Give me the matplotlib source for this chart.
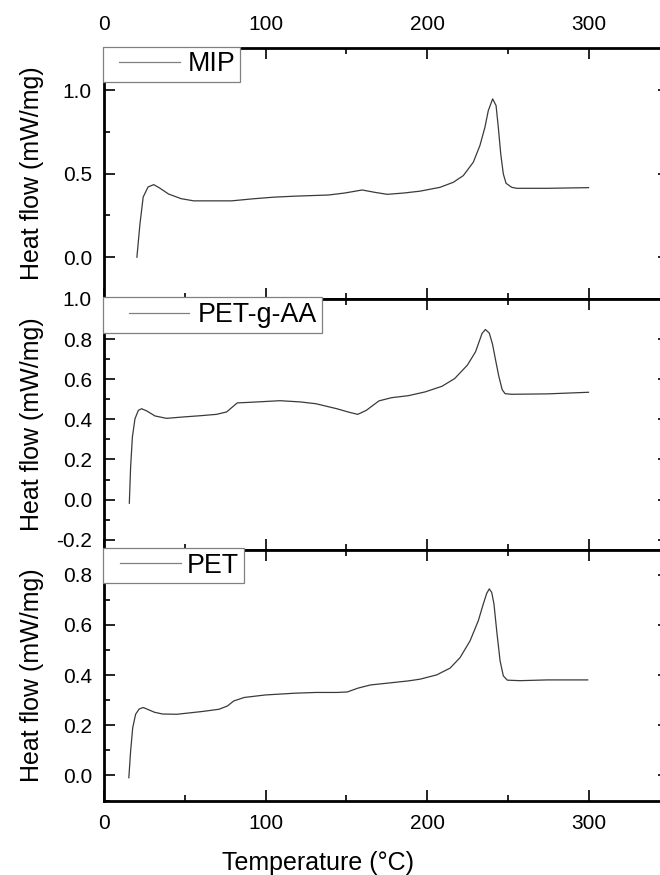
import matplotlib
matplotlib.use("Agg")
import matplotlib.pyplot as plt
from matplotlib.ticker import MultipleLocator, FormatStrFormatter
from matplotlib.lines import Line2D
from matplotlib.legend_handler import HandlerLine2D

plt.rcParams['font.family'] = ['Liberation Sans', 'DejaVu Sans']

# ---------------- data ----------------
mip_T = [20.1, 22.0, 24.0, 27.0, 30.5, 34.0, 39.7, 47.5, 55.3, 78.8, 91.8, 104.9,
         117.9, 138.8, 149.0, 159.7, 167.5, 175.3, 185.7, 195.6, 208.0, 216.2, 222.4,
         228.6, 232.7, 235.8, 237.9, 240.6, 242.7, 244.1, 245.6, 247.2, 248.9, 252.4,
         255.5, 274.4, 300.0]
mip_H = [0.0, 0.2, 0.36, 0.42, 0.434, 0.415, 0.378, 0.35, 0.337, 0.337, 0.349, 0.359,
         0.365, 0.372, 0.384, 0.402, 0.388, 0.376, 0.384, 0.395, 0.418, 0.448, 0.488,
         0.568, 0.668, 0.777, 0.877, 0.947, 0.907, 0.777, 0.618, 0.498, 0.442, 0.418,
         0.412, 0.412, 0.416]

aa_T = [15.4, 16.2, 17.3, 18.9, 21.0, 23.0, 26.2, 31.3, 38.5, 48.9, 59.2, 69.5, 75.7,
        79.8, 82.3, 90.2, 108.8, 121.2, 131.0, 144.0, 151.8, 157.0, 162.3, 170.1, 177.9,
        188.3, 198.8, 209.2, 217.0, 224.9, 230.0, 234.0, 236.1, 238.5, 240.5, 242.3,
        244.4, 246.5, 248.3, 252.3, 274.4, 300.0]
aa_H = [-0.018, 0.162, 0.312, 0.403, 0.445, 0.453, 0.442, 0.417, 0.405, 0.412, 0.418,
        0.425, 0.437, 0.465, 0.482, 0.485, 0.493, 0.487, 0.478, 0.453, 0.435, 0.425,
        0.445, 0.492, 0.508, 0.518, 0.537, 0.565, 0.603, 0.67, 0.737, 0.828, 0.848,
        0.83, 0.775, 0.7, 0.615, 0.548, 0.528, 0.525, 0.527, 0.535]

pet_T = [15.1, 16.2, 17.5, 19.3, 21.5, 24.0, 27.0, 31.0, 36.0, 44.9, 60.5, 71.0, 76.2,
         80.1, 86.6, 99.7, 117.9, 131.0, 144.0, 150.5, 157.0, 164.9, 175.3, 188.3,
         195.6, 205.9, 214.2, 220.4, 226.6, 231.7, 234.8, 236.9, 238.5, 240.0, 241.4,
         243.1, 245.2, 247.2, 249.7, 257.5, 274.4, 299.5]
pet_H = [-0.009, 0.097, 0.19, 0.244, 0.265, 0.271, 0.263, 0.252, 0.245, 0.244, 0.255,
         0.264, 0.277, 0.297, 0.311, 0.321, 0.328, 0.331, 0.331, 0.333, 0.348, 0.361,
         0.368, 0.377, 0.384, 0.401, 0.428, 0.47, 0.537, 0.617, 0.684, 0.726, 0.744,
         0.73, 0.684, 0.577, 0.457, 0.397, 0.38, 0.378, 0.381, 0.381]

labels = ['MIP', 'PET-g-AA', 'PET']

# ---------------- figure ----------------
fig = plt.figure(figsize=(6.6, 8.75), dpi=100)
L, W, H = 0.1583, 0.8556, 0.2866
bottoms = [0.6583, 0.3717, 0.0851]
ylims = [(-0.25, 1.25), (-0.25, 1.0), (-0.1, 0.9)]
ymaj = [0.5, 0.2, 0.2]
ymin = [0.25, 0.1, 0.1]
series = [(mip_T, mip_H), (aa_T, aa_H), (pet_T, pet_H)]
# legend layout per panel: (marker_pad, handlelength, handletextpad)
leg_style = [(0.425, 3.13, -0.127), (0.80, 3.84, -0.463), (0.463, 3.2, -0.24)]

for i in range(3):
    ax = fig.add_axes([L, bottoms[i], W, H])
    T, Hf = series[i]
    ax.plot(T, Hf, color='#3a3a3a', lw=0.9, label=labels[i])
    ax.set_xlim(0, 350)
    ax.set_ylim(*ylims[i])
    ax.xaxis.set_major_locator(MultipleLocator(100))
    ax.xaxis.set_minor_locator(MultipleLocator(50))
    ax.yaxis.set_major_locator(MultipleLocator(ymaj[i]))
    ax.yaxis.set_minor_locator(MultipleLocator(ymin[i]))
    ax.yaxis.set_major_formatter(FormatStrFormatter('%.1f'))
    for s in ax.spines.values():
        s.set_linewidth(2.0)
    ax.tick_params(which='both', direction='in', top=True, right=True,
                   labelsize=15, width=1.2, pad=9)
    ax.tick_params(which='major', length=8)
    ax.tick_params(which='minor', length=4.5)
    ax.tick_params(axis='x', labeltop=(i == 0), labelbottom=(i == 2), pad=10)
    ax.set_ylabel('Heat flow (mW/mg)', fontsize=18)
    ax.yaxis.set_label_coords(-0.107, 0.5)
    mp, hl, htp = leg_style[i]
    leg = ax.legend(loc='upper left', bbox_to_anchor=(-0.0027, 1.006),
                    fontsize=19.3, frameon=True, fancybox=False, borderpad=0.17,
                    borderaxespad=0.0, handlelength=hl, handletextpad=htp,
                    framealpha=1.0,
                    handler_map={Line2D: HandlerLine2D(numpoints=2, marker_pad=mp)})
    leg.get_frame().set_edgecolor('#808080')
    leg.get_frame().set_linewidth(0.9)
    for ln in leg.get_lines():
        ln.set_color('#808080')
    if i == 2:
        ax.set_xlabel('Temperature (\u00b0C)', fontsize=18)
        ax.xaxis.set_label_coords(0.378, -0.2)

fig.savefig('out.png', dpi=100)
